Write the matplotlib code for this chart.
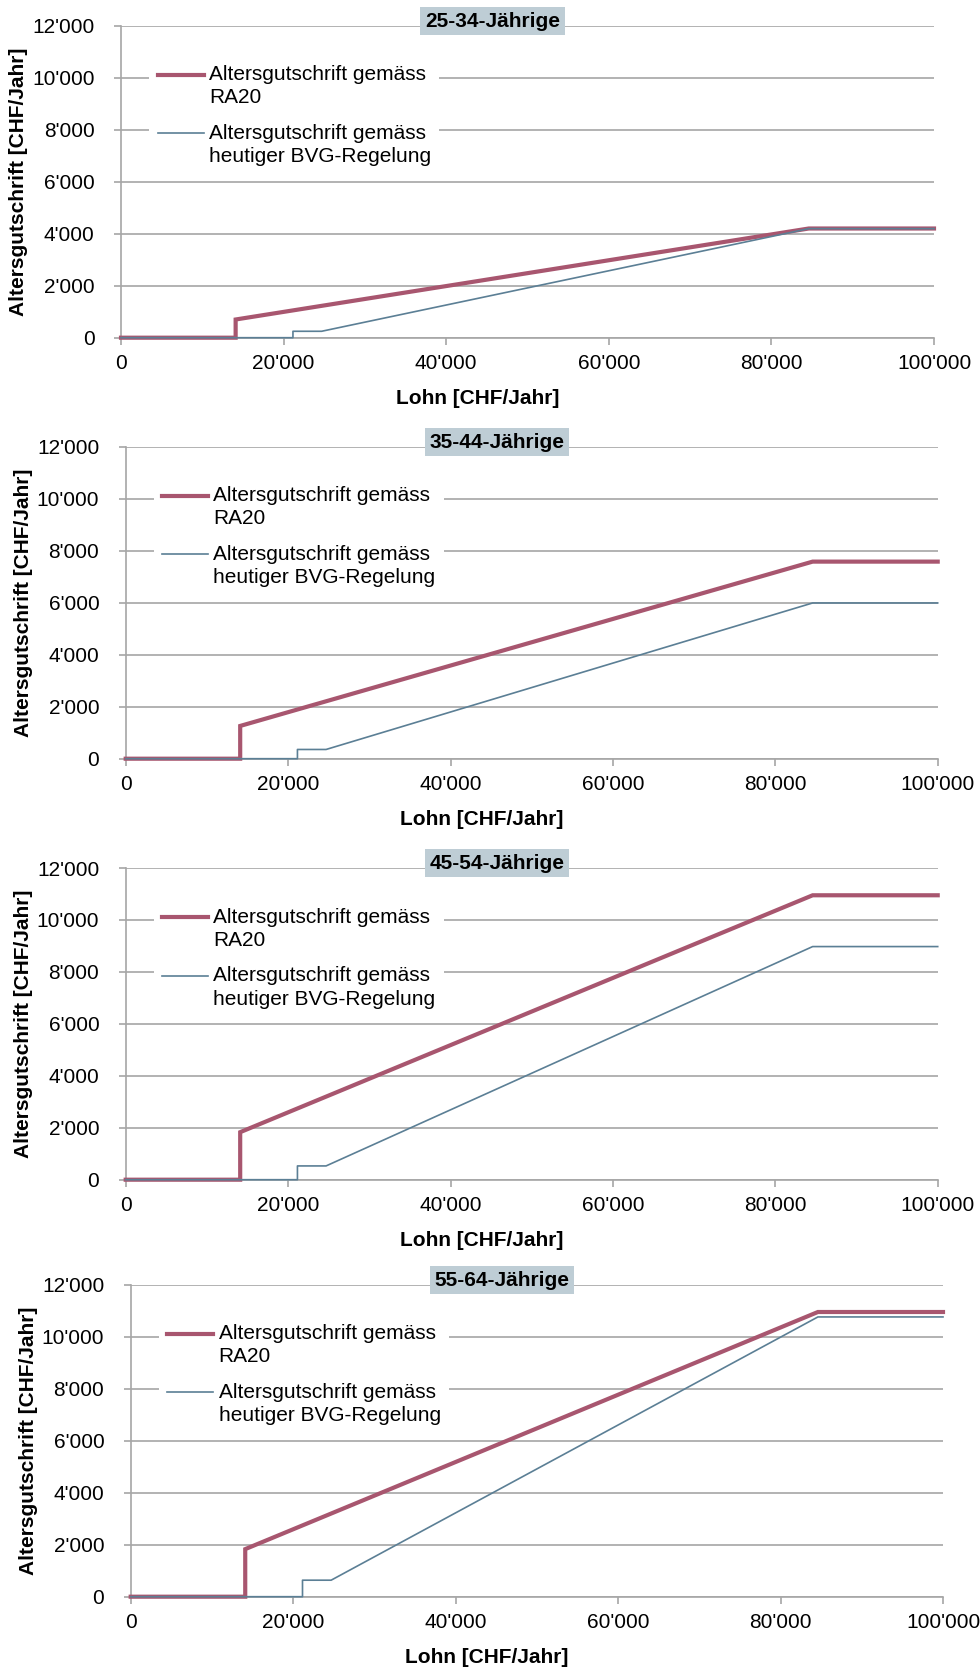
import numpy as np
import matplotlib
matplotlib.use("Agg")
import matplotlib.pyplot as plt
from matplotlib.ticker import FuncFormatter, MultipleLocator

plt.rcParams['font.family'] = ['Liberation Sans', 'DejaVu Sans']

# ---------------- data ----------------
panel_titles = ["25-34-Jährige", "35-44-Jährige", "45-54-Jährige", "55-64-Jährige"]

lohn_ra20 = [0, 14100, 14100, 84600, 100000]
ra20_25_34 = [0, 0, 700, 4200, 4200]
ra20_35_44 = [0, 0, 1260, 7580, 7580]
ra20_45_54 = [0, 0, 1830, 10950, 10950]
ra20_55_64 = [0, 0, 1830, 10950, 10950]

lohn_bvg = [0, 21150, 21150, 24675, 84600, 100000]
bvg_25_34 = [0, 0, 247, 247, 4195, 4195]
bvg_35_44 = [0, 0, 355, 355, 5990, 5990]
bvg_45_54 = [0, 0, 530, 530, 8975, 8975]
bvg_55_64 = [0, 0, 635, 635, 10760, 10760]

ra20_series = [ra20_25_34, ra20_35_44, ra20_45_54, ra20_55_64]
bvg_series = [bvg_25_34, bvg_35_44, bvg_45_54, bvg_55_64]

label_ra20 = "Altersgutschrift gemäss\nRA20"
label_bvg = "Altersgutschrift gemäss\nheutiger BVG-Regelung"
xlabel = "Lohn [CHF/Jahr]"
ylabel = "Altersgutschrift [CHF/Jahr]"

# ---------------- layout ----------------
W, H = 980, 1669
DPI = 100
# pixel boxes (x0, x1, ytop, ybottom)
boxes = [(121, 934, 25.7, 337.7),
         (125.7, 937.7, 446.7, 758.7),
         (125.7, 937.7, 868, 1179.7),
         (130.7, 943, 1284.7, 1596.7)]

RED = "#A8566F"
BLUE = "#5B7F95"
GRID = "#A6A6A6"
TITLEBG = "#BECDD5"
FS = 15

fig = plt.figure(figsize=(W / DPI, H / DPI), dpi=DPI)

fmt = FuncFormatter(lambda v, p: f"{int(round(v)):,}".replace(",", "'"))

for i, (x0, x1, yt, yb) in enumerate(boxes):
    ax = fig.add_axes([x0 / W, 1 - yb / H, (x1 - x0) / W, (yb - yt) / H])
    ax.set_xlim(0, 100000)
    ax.set_ylim(0, 12000)
    ax.xaxis.set_major_locator(MultipleLocator(20000))
    ax.yaxis.set_major_locator(MultipleLocator(2000))
    ax.xaxis.set_major_formatter(fmt)
    ax.yaxis.set_major_formatter(fmt)

    ax.grid(axis='y', color=GRID, linewidth=1.2, zorder=0)
    ax.set_axisbelow(True)
    for s in ['top', 'right']:
        ax.spines[s].set_visible(False)
    for s in ['left', 'bottom']:
        ax.spines[s].set_color(GRID)
        ax.spines[s].set_linewidth(1.2)
    ax.tick_params(axis='y', direction='out', length=5, width=1.2, color=GRID,
                   labelsize=FS, pad=14, labelcolor='black')
    ax.tick_params(axis='x', direction='out', length=5, width=1.2, color=GRID,
                   labelsize=FS, pad=7, labelcolor='black')

    ax.plot(lohn_ra20, ra20_series[i], color=RED, linewidth=3.0, label=label_ra20,
            clip_on=False, zorder=3, solid_joinstyle='miter')
    ax.plot(lohn_bvg, bvg_series[i], color=BLUE, linewidth=1.2, label=label_bvg,
            clip_on=False, zorder=4)

    ax.set_xlabel(xlabel, fontsize=FS, fontweight='bold')
    ax.set_ylabel(ylabel, fontsize=FS, fontweight='bold')
    ax.xaxis.set_label_coords(0.4385, -0.1955)
    ax.xaxis.label.set_va('center')
    ax.yaxis.set_label_coords(-0.126, 0.5)
    ax.yaxis.label.set_va('center')

    leg = ax.legend(loc='upper left', bbox_to_anchor=(0.035, 0.90), fontsize=FS,
                    frameon=True, fancybox=False, framealpha=1, facecolor='white',
                    edgecolor='none', handlelength=2.2, handletextpad=0.25,
                    labelspacing=0.8, borderpad=0.4, borderaxespad=0)
    for t in leg.get_texts():
        t.set_linespacing(1.28)
    for h in leg.legend_handles:
        h.set_ydata(np.asarray(h.get_ydata(), dtype=float) + 8.6)

    ax.text(0.457, 1.015, panel_titles[i], transform=ax.transAxes, ha='center',
            va='center', fontsize=FS, fontweight='bold', zorder=6,
            bbox=dict(boxstyle='square,pad=0.22', facecolor=TITLEBG, edgecolor='none'))

fig.savefig("out.png", dpi=DPI)
